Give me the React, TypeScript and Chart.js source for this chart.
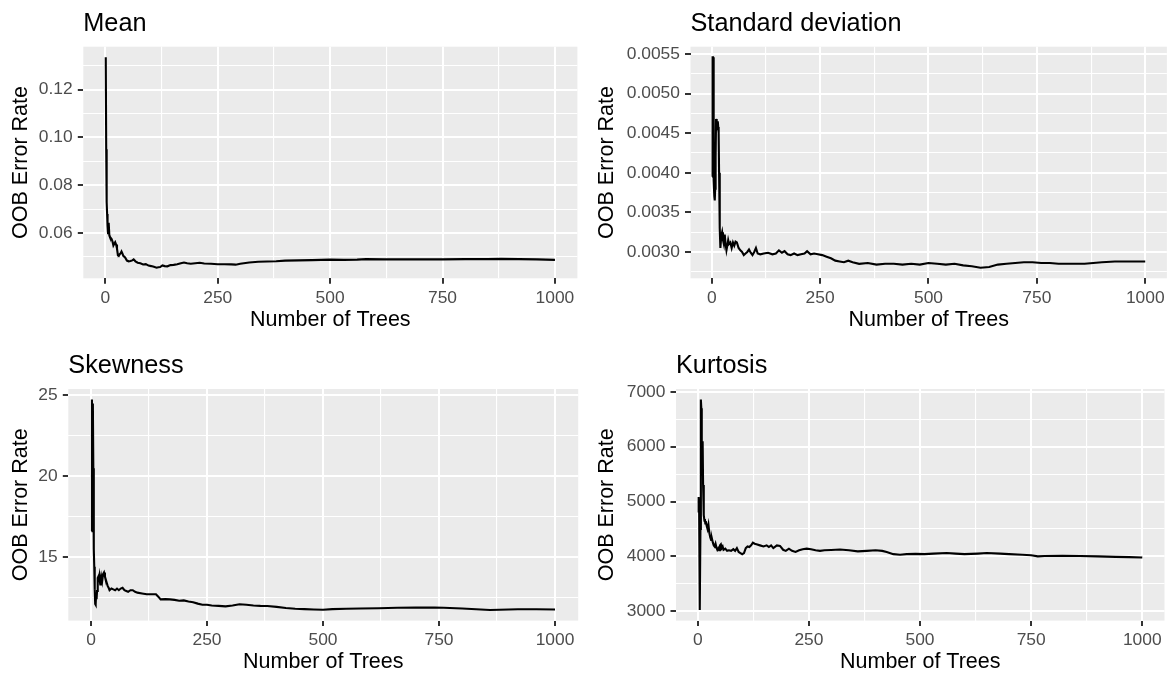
import React, { useEffect, useRef } from "react";
import { Chart, registerables } from "chart.js";

Chart.register(...registerables);

// ---------------- data ----------------
const panelTitles = ["Mean", "Standard deviation", "Skewness", "Kurtosis"];
const xAxisTitle = "Number of Trees";
const yAxisTitle = "OOB Error Rate";

const xMajorTicks = [0, 250, 500, 750, 1000];
const xMinorTicks = [125, 375, 625, 875];

const meanTrees = [1, 2, 3, 4, 5, 6, 7, 8, 9, 10,
  12, 14, 16, 18, 20, 22, 24, 26, 28, 30, 32, 34, 36, 38, 40,
  44, 48, 52, 56, 60,
  63, 67, 72, 78, 84, 90, 96, 102, 108, 114,
  118, 122, 127, 132, 138, 145, 152, 160, 168, 175,
  182, 190, 200, 210, 220, 235, 250, 265, 280, 290,
  300, 320, 340, 360, 380, 400, 430, 460, 500, 530,
  560, 580, 620, 660, 700, 750, 800, 850, 880, 920,
  960, 1000];
const meanRate = [0.1335, 0.095, 0.073, 0.068, 0.063, 0.060, 0.0605, 0.0643, 0.059, 0.0585,
  0.058, 0.0575, 0.0565, 0.0548, 0.0555, 0.0562, 0.0552, 0.0535, 0.0508, 0.0505, 0.0512, 0.0515, 0.0523, 0.0515, 0.0505,
  0.0498, 0.0485, 0.0482, 0.0483, 0.0486,
  0.049, 0.0482, 0.0476, 0.0474, 0.0469, 0.047, 0.0464, 0.0462, 0.0459, 0.0455,
  0.0457, 0.0458, 0.0465, 0.0462, 0.0461, 0.0466, 0.0467, 0.047, 0.0474, 0.0477,
  0.0474, 0.0472, 0.0474, 0.0476, 0.0473, 0.0472, 0.047, 0.047, 0.0469, 0.0468,
  0.0472, 0.0477, 0.048, 0.0481, 0.0482, 0.0485, 0.0486, 0.0487, 0.0489, 0.0488,
  0.0489, 0.0491, 0.049, 0.049, 0.049, 0.049, 0.0491, 0.0491, 0.0492, 0.0491,
  0.049, 0.0488];
const meanMajorTicks = [0.06, 0.08, 0.1, 0.12];
const meanMinorTicks = [0.05, 0.07, 0.09, 0.11, 0.13];

const sdTrees = [1, 2, 3, 4, 5, 6, 7, 8, 9, 10,
  11, 12, 13, 14, 15, 16, 17, 18, 19, 20,
  22, 24, 26, 28, 30, 32, 34, 36, 38, 40,
  43, 46, 49, 52, 55, 58, 62, 66, 70, 74,
  78, 82, 86, 90, 94, 98, 102, 106, 112, 120,
  130, 140, 148, 155, 162, 168, 175, 182, 190, 198,
  206, 214, 220, 228, 236, 245, 255, 265, 275, 285,
  295, 305, 315, 325, 340, 360, 380, 400, 420, 440,
  460, 480, 500, 520, 540, 560, 580, 600, 620, 640,
  660, 680, 700, 720, 740, 760, 780, 800, 830, 860,
  880, 900, 930, 960, 1000];
const sdRate = [0.00395, 0.00546, 0.00546, 0.0041, 0.0039, 0.0037, 0.00365, 0.0038, 0.0042, 0.00468,
  0.0046, 0.00462, 0.00455, 0.00465, 0.00458, 0.0045, 0.004, 0.0036, 0.0033, 0.00305,
  0.0032, 0.00325, 0.00315, 0.0031, 0.00322, 0.0031, 0.00302, 0.00308, 0.00315, 0.0031,
  0.00312, 0.00305, 0.00312, 0.00308, 0.00313, 0.00312, 0.00305, 0.00302, 0.003, 0.00296,
  0.00298, 0.003, 0.00303, 0.00299, 0.00296, 0.003, 0.00305, 0.00298, 0.00297, 0.00298,
  0.00299, 0.00297, 0.00298, 0.00302, 0.00299, 0.00301, 0.00297, 0.00296, 0.00298, 0.00296,
  0.00297, 0.00298, 0.00301, 0.00297, 0.00298, 0.00297, 0.00296, 0.00294, 0.00292, 0.00289,
  0.00288, 0.00287, 0.00289, 0.00287, 0.00285, 0.00286, 0.00284, 0.00285, 0.00285, 0.00284,
  0.00285, 0.00284, 0.00286, 0.00285, 0.00284, 0.00285, 0.00283, 0.00282, 0.0028, 0.00281,
  0.00284, 0.00285, 0.00286, 0.00287, 0.00287, 0.00286, 0.00286, 0.00285, 0.00285, 0.00285,
  0.00286, 0.00287, 0.00288, 0.00288, 0.00288];
const sdMajorTicks = [0.003, 0.0035, 0.004, 0.0045, 0.005, 0.0055];
const sdMinorTicks = [0.00275, 0.00325, 0.00375, 0.00425, 0.00475, 0.00525];

const skewTrees = [1, 2, 3, 4, 5, 6, 7, 8, 9, 10,
  11, 12, 13, 14, 15, 16, 17, 18, 19, 20,
  21, 22, 24, 26, 28, 30, 32, 34, 36, 38,
  40, 44, 48, 52, 56, 60, 64, 68, 72, 76,
  80, 85, 90, 95, 100, 110, 120, 130, 140, 145,
  150, 160, 170, 180, 190, 200, 210, 220, 230, 240,
  250, 260, 275, 290, 305, 320, 335, 350, 365, 380,
  400, 420, 440, 460, 480, 500, 520, 550, 580, 620,
  660, 700, 740, 760, 800, 830, 860, 880, 920, 960,
  1000];
const skewRate = [16.6, 24.75, 17.0, 24.5, 20.5, 15.5, 14.4, 13.0, 12.1, 12.05,
  12.7, 12.4, 12.9, 13.2, 13.7, 13.8, 13.6, 13.8, 13.5, 13.3,
  13.6, 13.8, 13.5, 13.95, 14.05, 13.8, 13.6, 13.4, 13.2, 13.1,
  12.95, 13.05, 13.0, 12.95, 13.05, 12.95, 13.05, 13.1, 12.95, 12.9,
  12.85, 12.95, 12.95, 12.85, 12.8, 12.75, 12.7, 12.7, 12.7, 12.55,
  12.38, 12.4, 12.38, 12.35, 12.3, 12.32, 12.25, 12.2, 12.12, 12.05,
  12.05, 12.0, 11.98, 11.95, 12.0, 12.08, 12.05, 12.0, 11.98, 11.97,
  11.92, 11.85, 11.8, 11.78, 11.76, 11.74, 11.78, 11.8, 11.82, 11.83,
  11.86, 11.88, 11.87, 11.86, 11.82, 11.77, 11.72, 11.74, 11.77, 11.77,
  11.76];
const skewMajorTicks = [15, 20, 25];
const skewMinorTicks = [12.5, 17.5, 22.5];

const kurtTrees = [1, 2, 3, 4, 5, 6, 7, 8, 9, 10,
  11, 12, 13, 14, 15, 16, 17, 18, 20, 22,
  24, 26, 28, 30, 32, 34, 36, 38, 40, 42,
  44, 46, 48, 50, 52, 54, 56, 58, 62, 66,
  70, 75, 80, 84, 88, 92, 96, 100, 104, 108,
  112, 116, 120, 124, 128, 132, 140, 148, 155, 160,
  165, 170, 178, 185, 192, 198, 205, 212, 220, 228,
  236, 245, 255, 265, 275, 285, 300, 320, 340, 360,
  380, 400, 415, 425, 440, 455, 470, 490, 510, 530,
  560, 580, 600, 630, 650, 680, 700, 730, 750, 765,
  780, 820, 860, 900, 940, 970, 1000];
const kurtRate = [4800, 5080, 4950, 4600, 3020, 4500, 6860, 6700, 5900, 5700,
  6100, 5300, 4900, 4750, 4650, 4680, 4600, 4640, 4560, 4500,
  4580, 4430, 4350, 4300, 4320, 4250, 4200, 4180, 4230, 4160,
  4120, 4150, 4110, 4200, 4220, 4150, 4180, 4120, 4140, 4100,
  4110, 4100, 4130, 4100, 4150, 4080, 4060, 4040, 4060, 4150,
  4180, 4170, 4200, 4250, 4230, 4220, 4200, 4180, 4200, 4170,
  4200, 4150, 4200, 4190, 4120, 4100, 4140, 4100, 4080, 4110,
  4130, 4140, 4130, 4110, 4100, 4110, 4115, 4125, 4110, 4090,
  4100, 4110, 4100, 4080, 4040, 4030, 4040, 4045, 4040, 4050,
  4060, 4050, 4040, 4050, 4060, 4050, 4040, 4030, 4020, 4000,
  4005, 4010, 4005, 4000, 3990, 3985, 3980];
const kurtMajorTicks = [3000, 4000, 5000, 6000, 7000];
const kurtMinorTicks = [3500, 4500, 5500, 6500];

// ---------------- layout / style ----------------
const FONT = '"Liberation Sans", Arial, Helvetica, sans-serif';
const PANEL_BG = "#EBEBEB";

type PanelCfg = {
  title: string;
  trees: number[];
  rate: number[];
  major: number[];
  minor: number[];
  decimals: number;
  box: { left: number; top: number; width: number; height: number };
  area: { left: number; right: number; top: number; bottom: number };
  titleBaseline: number;
  xTitlePad: number;
};

const panels: PanelCfg[] = [
  {
    title: panelTitles[0], trees: meanTrees, rate: meanRate, major: meanMajorTicks, minor: meanMinorTicks, decimals: 2,
    box: { left: 0, top: 0, width: 586, height: 338 },
    area: { left: 83.3, right: 577.4, top: 46.7, bottom: 278.3 },
    titleBaseline: 30.7, xTitlePad: 5.2,
  },
  {
    title: panelTitles[1], trees: sdTrees, rate: sdRate, major: sdMajorTicks, minor: sdMinorTicks, decimals: 4,
    box: { left: 586, top: 0, width: 586, height: 338 },
    area: { left: 104.5, right: 580.9, top: 46.7, bottom: 278.3 },
    titleBaseline: 30.7, xTitlePad: 5.2,
  },
  {
    title: panelTitles[2], trees: skewTrees, rate: skewRate, major: skewMajorTicks, minor: skewMinorTicks, decimals: 0,
    box: { left: 0, top: 338, width: 586, height: 339 },
    area: { left: 68.3, right: 578.2, top: 51, bottom: 282.6 },
    titleBaseline: 34.7, xTitlePad: 2.5,
  },
  {
    title: panelTitles[3], trees: kurtTrees, rate: kurtRate, major: kurtMajorTicks, minor: kurtMinorTicks, decimals: 0,
    box: { left: 586, top: 338, width: 586, height: 339 },
    area: { left: 90, right: 578.5, top: 51, bottom: 282.6 },
    titleBaseline: 34.7, xTitlePad: 2.5,
  },
];

const isIn = (list: number[], v: number) => list.some((m) => Math.abs(m - v) < 1e-9);

const bgPlugin = {
  id: "panelBg",
  beforeDraw(chart: any) {
    const { ctx, chartArea } = chart;
    ctx.save();
    ctx.fillStyle = PANEL_BG;
    ctx.fillRect(chartArea.left, chartArea.top, chartArea.right - chartArea.left, chartArea.bottom - chartArea.top);
    ctx.restore();
  },
};

const titlePlugin = {
  id: "panelTitle",
  afterDraw(chart: any, _args: any, opts: any) {
    const { ctx, chartArea } = chart;
    ctx.save();
    ctx.font = `25.3px ${FONT}`;
    ctx.fillStyle = "#000000";
    ctx.textAlign = "left";
    ctx.textBaseline = "alphabetic";
    ctx.fillText(opts.text, chartArea.left, opts.baseline);
    ctx.restore();
  },
};

function Panel({ cfg }: { cfg: PanelCfg }) {
  const ref = useRef<HTMLCanvasElement | null>(null);

  useEffect(() => {
    if (!ref.current) return;
    const { box, area } = cfg;
    const lo = Math.min(...cfg.rate);
    const hi = Math.max(...cfg.rate);
    const yPad = (hi - lo) * 0.05;
    const yMin = lo - yPad;
    const yMax = hi + yPad;
    const tLo = Math.min(...cfg.trees);
    const tHi = Math.max(...cfg.trees);
    const xPad = (tHi - tLo) * 0.05;
    const xMin = tLo - xPad;
    const xMax = tHi + xPad;

    const xAll = [...xMajorTicks, ...xMinorTicks].sort((a, b) => a - b).filter((v) => v >= xMin && v <= xMax);
    const yAll = [...cfg.major, ...cfg.minor].sort((a, b) => a - b).filter((v) => v >= yMin && v <= yMax);

    const gridFor = (majors: number[]) => ({
      display: true,
      drawOnChartArea: true,
      drawTicks: true,
      color: "#FFFFFF",
      lineWidth: (c: any) => (c.tick && isIn(majors, c.tick.value) ? 2 : 1.1),
      tickColor: (c: any) => (c.tick && isIn(majors, c.tick.value) ? "#333333" : "rgba(0,0,0,0)"),
      tickWidth: 2,
      tickLength: 5.5,
    });

    const chart = new Chart(ref.current, {
      type: "line",
      data: {
        datasets: [
          {
            data: cfg.trees.map((t, i) => ({ x: t, y: cfg.rate[i] })),
            borderColor: "#000000",
            borderWidth: 2.1,
            pointRadius: 0,
            fill: false,
            tension: 0,
          },
        ],
      },
      options: {
        animation: false,
        responsive: true,
        maintainAspectRatio: false,
        devicePixelRatio: 1,
        events: [],
        layout: { padding: { left: 0, right: box.width - area.right, top: area.top, bottom: 0 } },
        plugins: {
          legend: { display: false },
          tooltip: { enabled: false },
          title: { display: false },
          panelTitle: { text: cfg.title, baseline: cfg.titleBaseline },
        } as any,
        scales: {
          x: {
            type: "linear",
            min: xMin,
            max: xMax,
            afterBuildTicks: (s: any) => {
              s.ticks = xAll.map((v) => ({ value: v }));
            },
            afterFit: (s: any) => {
              s.height = box.height - area.bottom;
            },
            border: { display: false },
            grid: gridFor(xMajorTicks) as any,
            ticks: {
              autoSkip: false,
              maxRotation: 0,
              minRotation: 0,
              padding: 3.6,
              color: "#4D4D4D",
              font: { family: FONT, size: 17.4 },
              callback: (v: any) => (isIn(xMajorTicks, Number(v)) ? String(Number(v)) : ""),
            },
            title: {
              display: true,
              text: xAxisTitle,
              color: "#000000",
              font: { family: FONT, size: 21.5 },
              padding: { top: 0, bottom: cfg.xTitlePad },
            },
          },
          y: {
            type: "linear",
            min: yMin,
            max: yMax,
            afterBuildTicks: (s: any) => {
              s.ticks = yAll.map((v) => ({ value: v }));
            },
            afterFit: (s: any) => {
              s.width = area.left;
            },
            border: { display: false },
            grid: gridFor(cfg.major) as any,
            ticks: {
              autoSkip: false,
              padding: 5.1,
              color: "#4D4D4D",
              font: { family: FONT, size: 17.4 },
              callback: (v: any) => (isIn(cfg.major, Number(v)) ? Number(v).toFixed(cfg.decimals) : ""),
            },
            title: {
              display: true,
              text: yAxisTitle,
              color: "#000000",
              font: { family: FONT, size: 21.5 },
              padding: { top: 8.5, bottom: 0 },
            },
          },
        },
      },
      plugins: [bgPlugin, titlePlugin],
    });
    return () => chart.destroy();
  }, [cfg]);

  const { box } = cfg;
  return (
    <div style={{ position: "absolute", left: box.left, top: box.top, width: box.width, height: box.height }}>
      <canvas ref={ref} />
    </div>
  );
}

export default function App() {
  return (
    <div style={{ position: "absolute", left: 0, top: 0, width: 1172, height: 677, background: "#FFFFFF", overflow: "hidden" }}>
      {panels.map((p) => (
        <Panel key={p.title} cfg={p} />
      ))}
    </div>
  );
}
